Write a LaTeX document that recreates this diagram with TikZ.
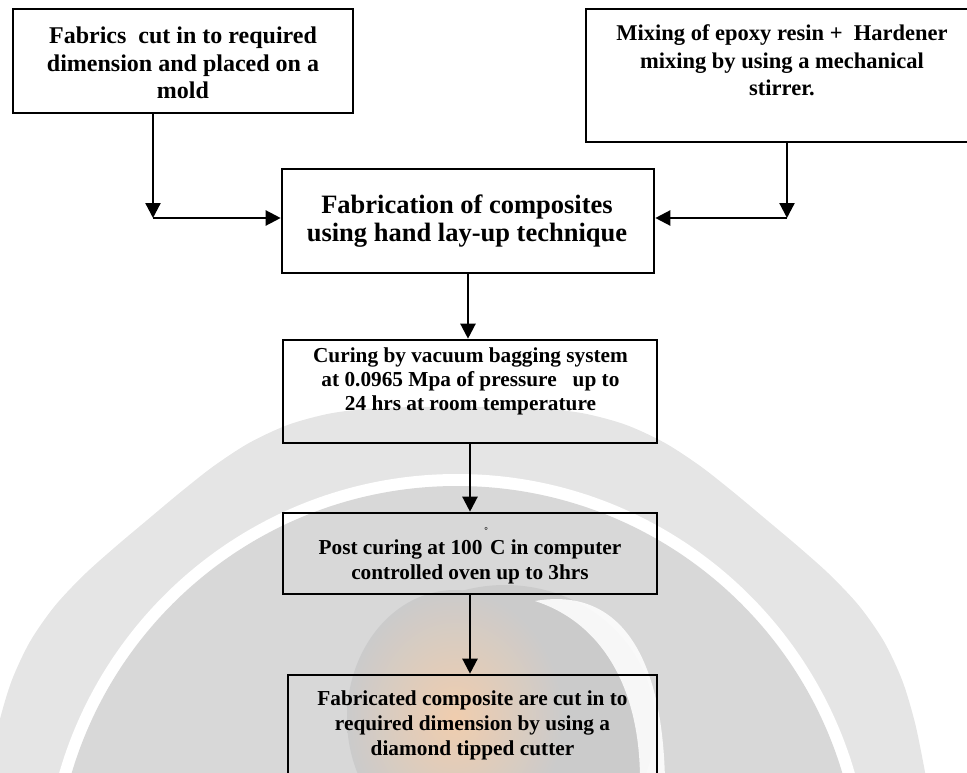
\documentclass[tikz,border=0pt]{standalone}
\usepackage{fontspec}
\setmainfont{Liberation Serif}
\usetikzlibrary{arrows.meta}
\definecolor{wmouter}{HTML}{E5E5E5}
\definecolor{wminner}{HTML}{D8D8D8}
\definecolor{wmdark}{HTML}{CBCBCB}
\definecolor{wmpeach}{HTML}{F0CDAE}
\tikzset{
  boxnode/.style={draw=black, line width=2.6pt, inner sep=0pt},
  txt/.style={align=center, inner sep=0pt, text=black},
  flowarrow/.style={line width=2.3pt, -{Triangle[length=15pt,width=15pt]}},
  flowline/.style={line width=2.3pt}
}
\begin{document}
\begin{tikzpicture}[x=1pt,y=-1pt]
\useasboundingbox (0,0) rectangle (967,773);
% ---- watermark (background) ----
\begin{scope}
\clip (0,0) rectangle (967,773);
\fill[wmouter] plot[smooth cycle, domain=0:355, samples=72]
  ({457+(487+6*sin(9*\x))*cos(\x)},{888+(487+6*sin(9*\x))*sin(\x)});
\fill[white] (457,888) circle[radius=414];
\fill[wminner] (457,888) circle[radius=402];
\fill[wmdark] (505,725) ellipse[x radius=150, y radius=140];
\shade[inner color=wmpeach, outer color=wmdark] (455,718) ellipse[x radius=108, y radius=128];
\fill[white, opacity=0.85] (535,601) .. controls (610,588) and (662,640) .. (665,780)
  -- (640,780) .. controls (640,685) and (600,622) .. cycle;
\end{scope}
% ---- boxes ----
\node[boxnode, minimum width=340pt, minimum height=104pt] (b1) at (183,61) {};
\node[boxnode, minimum width=394pt, minimum height=133pt] (b2) at (783,75.5) {};
\node[boxnode, minimum width=372pt, minimum height=104pt] (b3) at (468,221) {};
\node[boxnode, minimum width=374pt, minimum height=103pt] (b4) at (470,391.5) {};
\node[boxnode, minimum width=374pt, minimum height=81pt] (b5) at (470,553.5) {};
\node[boxnode, minimum width=369pt, minimum height=140pt] (b6) at (472.5,745) {};
% ---- texts ----
\node[txt, font=\fontsize{24}{27.5}\selectfont\bfseries] (t1) at (183,63)
  {Fabrics\ \ cut in to required\\dimension and placed on a\\mold};
\node[txt, font=\fontsize{22.5}{27.5}\selectfont\bfseries] (t2) at (782,60.5)
  {Mixing of epoxy resin +\ \ Hardener\\mixing by using a mechanical\\stirrer.};
\node[txt, font=\fontsize{26.5}{27.5}\selectfont\bfseries] (t3) at (467,221)
  {Fabrication of composites\\using hand lay-up technique};
\node[txt, font=\fontsize{21.3}{24}\selectfont\bfseries] (t4) at (470.5,381)
  {Curing by vacuum bagging system\\at 0.0965 Mpa of pressure\ \ \ up to\\24 hrs at room temperature};
\node[txt, font=\fontsize{21.3}{25}\selectfont\bfseries] (t5) at (470,562)
  {Post curing at 100\hspace{2pt}\raisebox{21pt}[0pt][0pt]{\fontsize{9}{9}\selectfont °}\hspace{2pt}C in computer\\controlled oven up to 3hrs};
\node[txt, font=\fontsize{21.3}{25}\selectfont\bfseries] (t6) at (472.5,725)
  {Fabricated composite are cut in to\\required dimension by using a\\diamond tipped cutter};
% ---- connectors ----
\coordinate (c1) at (153,218);
\coordinate (c2) at (787,218);
\draw[flowarrow] (c1 |- b1.south) -- (c1);
\draw[flowarrow] (c1) -- (c1 -| b3.west);
\draw[flowarrow] (c2 |- b2.south) -- (c2);
\draw[flowarrow] (c2) -- (c2 -| b3.east);
\draw[flowarrow] (b3.south) -- (b3.south |- b4.north);
\draw[flowarrow] (b4.south) -- (b4.south |- b5.north);
\draw[flowarrow] (b5.south) -- (b5.south |- b6.north);
\end{tikzpicture}
\end{document}
